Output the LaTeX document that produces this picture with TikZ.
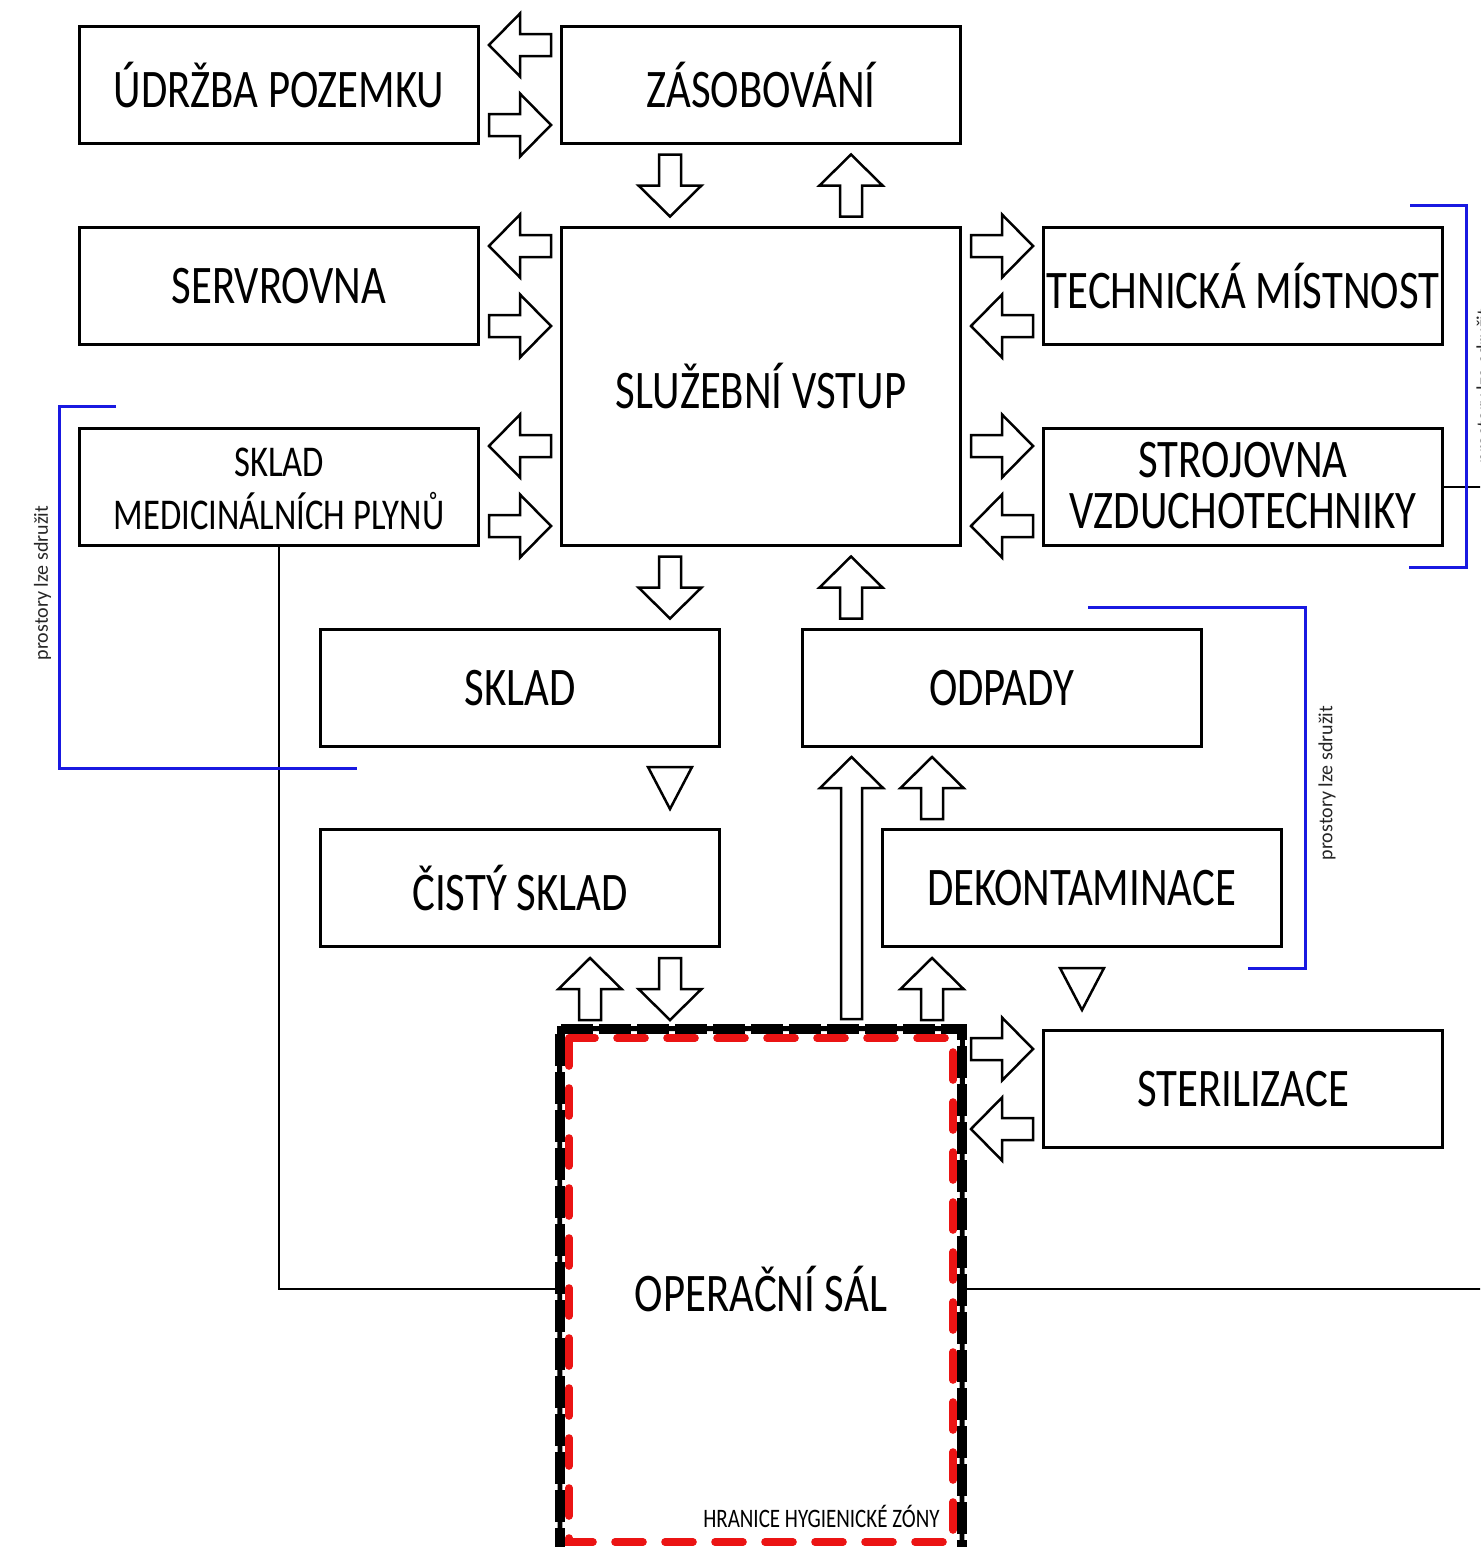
\documentclass[tikz,border=0pt]{standalone}
\usepackage{fontspec}
\setmainfont{Carlito}
\usepackage{graphicx}
\usetikzlibrary{calc}
\definecolor{brblue}{RGB}{25,25,225}
\definecolor{hzred}{RGB}{235,20,20}
\newcommand\st[1]{\scalebox{1}[1.27]{#1}}
\newcommand\lowr[1]{\raisebox{-3pt}[\height][\depth]{#1}}
\newcommand\barrow[2]{\draw[barr,shift={(#1)},rotate=#2] (-31,-11) -- (0,-11) -- (0,-31.5) -- (31,0) -- (0,31.5) -- (0,11) -- (-31,11) -- cycle;}
\begin{document}
\begin{tikzpicture}[x=0.5pt,y=-0.5pt,
  box/.style={draw,line width=1.5pt,minimum width=199.5pt,minimum height=58.5pt,inner sep=0pt,
    font=\fontsize{21.4}{24}\selectfont},
  barr/.style={draw,fill=white,line width=1.25pt,line join=miter},
  conn/.style={draw,line width=1pt},
  bracket/.style={draw=brblue,line width=1.5pt},
  side/.style={rotate=90,inner sep=0pt,font=\fontsize{10}{12}\selectfont,text=black!85}]
\clip (0,0) rectangle (1480,1547);
\fill[white] (0,0) rectangle (1480,1547);

% boxes
\node[box] (udrzba) at (279,85) {\st{ÚDRŽBA POZEMKU}};
\node[box] (zasob) at (761,85) {\st{ZÁSOBOVÁNÍ}};
\node[box] (servr) at (279,286) {\st{SERVROVNA}};
\node[box,minimum height=159pt] (sluz) at (761,386.5) {\st{SLUŽEBNÍ VSTUP}};
\node[box] (tech) at (1243,286) {\st{TECHNICKÁ MÍSTNOST}};
\node[box,font=\fontsize{17.3}{19.7}\selectfont] (plyny) at (279,487)
  {\lowr{\st{\begin{tabular}{@{}c@{}}SKLAD\\MEDICINÁLNÍCH PLYNŮ\end{tabular}}}};
\node[box,font=\fontsize{21.4}{19.7}\selectfont] (stroj) at (1243,487)
  {\lowr{\st{\begin{tabular}{@{}c@{}}STROJOVNA\\VZDUCHOTECHNIKY\end{tabular}}}};
\node[box] (sklad) at (520,688) {\st{SKLAD}};
\node[box] (odpady) at (1001.5,688) {\st{ODPADY}};
\node[box] (cisty) at (520,888) {\st{ČISTÝ SKLAD}};
\node[box] (dekon) at (1081.5,888) {\st{DEKONTAMINACE}};
\node[box] (steril) at (1243,1089) {\st{STERILIZACE}};
\node[minimum width=201pt,minimum height=260pt,inner sep=0pt,
  font=\fontsize{21.4}{24}\selectfont] (op) at (761,1289) {\st{OPERAČNÍ SÁL}};

% hygienic zone border
\draw[line width=2.4pt] (560,1560) -- (op.north west) -- (op.north east) -- (962,1560);
\draw[line width=4.6pt,dash pattern=on 16pt off 3pt] (560,1560) -- (560,1029) -- (962,1029) -- (962,1560);
\draw[hzred,line width=3.8pt,line cap=round,dash pattern=on 14pt off 11pt]
  (569,1038) rectangle (953,1542);
\node[anchor=east,inner sep=0pt,font=\fontsize{10.5}{12}\selectfont] (hz) at (940,1516)
  {\st{HRANICE HYGIENICKÉ ZÓNY}};

% black connector lines
\draw[conn] (plyny.south) |- (op.west);
\draw[conn] (op.east) -- (1500,1289) -- (1500,487) -- (stroj.east);

% block arrows
\barrow{520,45}{180}
\barrow{520,125}{0}
\barrow{670,185.5}{-90}
\barrow{851,185.5}{90}
\barrow{520,246}{180}
\barrow{520,326}{0}
\barrow{520,446}{180}
\barrow{520,526}{0}
\barrow{1002,246}{0}
\barrow{1002,326}{180}
\barrow{1002,446}{0}
\barrow{1002,526}{180}
\barrow{670,587.5}{-90}
\barrow{851,587.5}{90}
\barrow{932,788}{90}
\barrow{590,989}{90}
\barrow{670,989}{-90}
\barrow{932,989}{90}
\barrow{1002,1049}{0}
\barrow{1002,1129}{180}
% long arrow
\draw[barr] (841,1019) -- (841,788) -- (820,788) -- (851.5,757) -- (883,788) -- (862,788) -- (862,1019) -- cycle;
% triangles
\draw[barr] (648,767) -- (692,767) -- (670,809) -- cycle;
\draw[barr] (1060,968) -- (1104,968) -- (1082,1010) -- cycle;

% blue brackets
\draw[bracket] (116,406) -- (59,406) -- (59,768) -- (357,768);
\draw[bracket] (1088,607) -- (1305,607) -- (1305,968) -- (1248,968);
\draw[bracket] (1410,205) -- (1466,205) -- (1466,567) -- (1409,567);
\node[side] (lab1) at (42.5,583) {prostory lze sdružit};
\node[side] (lab2) at (1327,783) {prostory lze sdružit};
\node[side] (lab3) at (1485,386) {prostory lze sdružit};
\end{tikzpicture}
\end{document}
